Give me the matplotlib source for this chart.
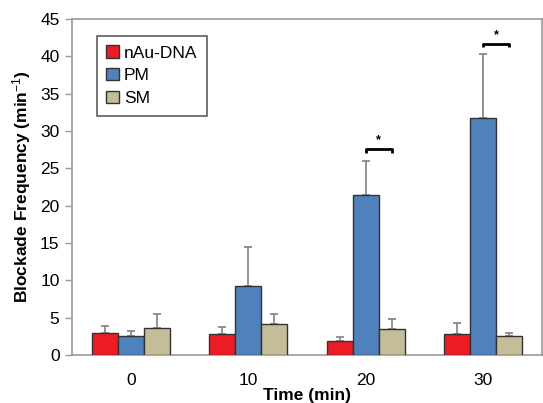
import matplotlib.pyplot as plt
import numpy as np

plt.rcParams['font.family'] = ['Liberation Sans', 'DejaVu Sans']
plt.rcParams['mathtext.fontset'] = 'custom'
plt.rcParams['mathtext.rm'] = 'Liberation Sans'
plt.rcParams['mathtext.it'] = 'Liberation Sans:italic'
plt.rcParams['mathtext.bf'] = 'Liberation Sans:bold'

# Blockade frequency (min^-1) by incubation time, mean and upper error
times = ["0", "10", "20", "30"]
series = ["nAu-DNA", "PM", "SM"]
colors = ["#ED1C24", "#4F81BD", "#C4BD97"]
means = {
    "nAu-DNA": [2.9, 2.8, 1.9, 2.8],
    "PM": [2.5, 9.3, 21.4, 31.7],
    "SM": [3.6, 4.15, 3.45, 2.55],
}
errors = {
    "nAu-DNA": [1.0, 1.0, 0.55, 1.5],
    "PM": [0.75, 5.15, 4.65, 8.55],
    "SM": [1.9, 1.35, 1.35, 0.45],
}
# significance brackets between PM and SM: (time index, height)
sig_marks = [(2, 27.6), (3, 41.7)]

fig = plt.figure(figsize=(5.43, 4.03), dpi=100)
ax = fig.add_axes([0.1326, 0.1191, 0.8656, 0.8337])

x = np.arange(len(times))
width = 0.222
offsets = [-width, 0, width]
for name, color, off in zip(series, colors, offsets):
    err = [np.zeros(len(times)), errors[name]]
    ax.bar(x + off, means[name], width, color=color, edgecolor="#333333",
           linewidth=1.0, label=name, zorder=3)
    ax.errorbar(x + off, means[name], yerr=err, fmt="none", ecolor="#808080",
                elinewidth=1.2, capsize=3, capthick=1.2, zorder=2)

for idx, h in sig_marks:
    x0, x1 = idx, idx + width
    ax.plot([x0, x0, x1, x1], [h - 0.5, h, h, h - 0.5], color="black",
            linewidth=2, solid_capstyle="butt", zorder=4)
    ax.text((x0 + x1) / 2, h + 0.4, "*", ha="center", va="bottom",
            fontsize=9, fontweight="bold")

ax.set_xlim(-0.5, 3.5)
ax.set_ylim(0, 45)
ax.set_yticks(np.arange(0, 46, 5))
ax.set_xticks(x)
ax.set_xticklabels(times)
ax.tick_params(axis="x", length=0, pad=13, labelsize=12.5)
ax.tick_params(axis="y", length=5, width=1, color="#999999", labelsize=12.5,
               pad=4)
for sp in ax.spines.values():
    sp.set_color("#999999")
    sp.set_linewidth(1.2)

ax.set_xlabel("Time (min)", fontsize=12.5, fontweight="bold", labelpad=0)
ax.set_ylabel("Blockade Frequency (min$^{-1}$)", fontsize=12.5,
              fontweight="bold", labelpad=5)

leg = ax.legend(loc="upper left", bbox_to_anchor=(0.053, 0.95), fontsize=12.5,
                frameon=True, fancybox=False, handlelength=0.7,
                handleheight=0.7, handletextpad=0.3, borderpad=0.55,
                labelspacing=0.45, borderaxespad=0)
leg.get_frame().set_edgecolor("#333333")
leg.get_frame().set_linewidth(1.2)

fig.savefig("out.png", dpi=100)
